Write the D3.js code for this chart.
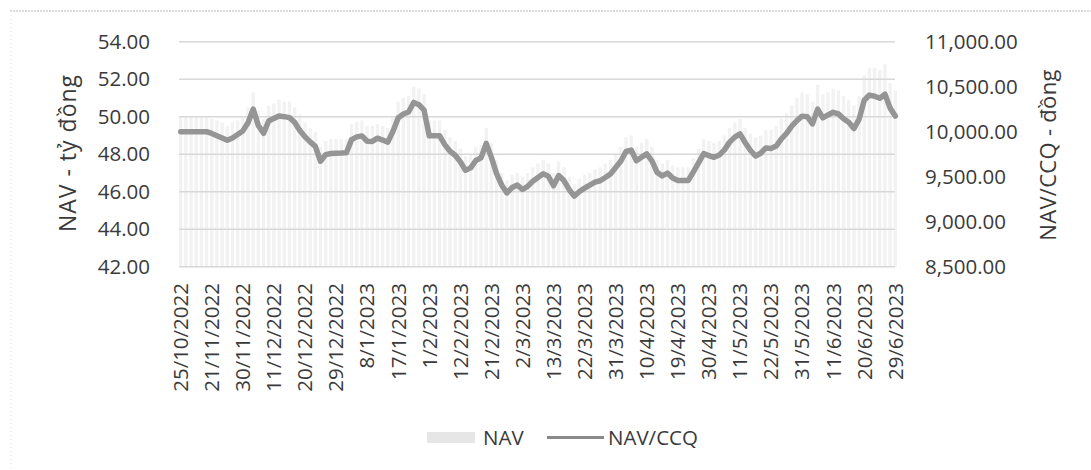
<!DOCTYPE html>
<html>
<head>
<meta charset="utf-8">
<script src="https://cdn.jsdelivr.net/npm/d3@7"></script>
<style>
  body { margin: 0; background: #fff; }
  text { font-family: "Open Sans", sans-serif; fill: #3a3a3a; }
</style>
</head>
<body>
<div id="chart"></div>
<script>
// x-axis tick labels, one every 6 data points
var tickLabels = ["25/10/2022", "21/11/2022", "30/11/2022", "11/12/2022", "20/12/2022", "29/12/2022",
                  "8/1/2023", "17/1/2023", "1/2/2023", "12/2/2023", "21/2/2023", "2/3/2023",
                  "13/3/2023", "22/3/2023", "31/3/2023", "10/4/2023", "19/4/2023", "30/4/2023",
                  "11/5/2023", "22/5/2023", "31/5/2023", "11/6/2023", "20/6/2023", "29/6/2023"];
var labelEvery = 6;

// NAV/CCQ - đồng (right axis)
var navCCQ = [10000,10000,10000,10000,10000,10000,9981,9955,9930,9904,
              9930,9969,10009,10100,10251,10068,9982,10119,10148,10174,
              10167,10156,10105,10014,9943,9887,9837,9672,9745,9758,
              9761,9763,9767,9912,9942,9953,9894,9892,9928,9907,
              9884,10005,10153,10196,10219,10325,10300,10239,9954,9954,
              9954,9856,9783,9738,9666,9570,9598,9680,9709,9870,
              9715,9535,9406,9320,9379,9407,9358,9393,9450,9492,
              9532,9505,9399,9513,9457,9358,9284,9335,9373,9407,
              9439,9455,9491,9531,9601,9674,9780,9796,9678,9717,
              9754,9676,9548,9509,9540,9485,9458,9458,9458,9552,
              9654,9756,9735,9715,9740,9798,9884,9940,9976,9880,
              9794,9730,9761,9820,9814,9841,9920,9981,10061,10123,
              10173,10166,10086,10250,10154,10186,10216,10198,10145,10104,
              10035,10137,10350,10407,10394,10372,10416,10262,10174];

// NAV - tỷ đồng (left axis, bars)
var nav = [50.0,50.0,50.0,50.0,50.0,50.0,49.9,49.8,49.7,49.5,
           49.7,49.8,50.0,50.5,51.3,50.3,49.9,50.6,50.7,50.9,
           50.8,50.8,50.5,50.1,49.7,49.4,49.2,48.4,48.7,48.8,
           48.8,48.8,48.8,49.6,49.7,49.8,49.5,49.5,49.6,49.5,
           49.4,50.0,50.8,51.0,51.1,51.6,51.5,51.2,49.8,49.8,
           49.8,49.3,48.9,48.7,48.3,47.9,48.0,48.4,48.5,49.4,
           48.6,47.7,47.0,46.6,46.9,47.0,46.8,47.0,47.3,47.5,
           47.7,47.5,47.0,47.6,47.3,46.8,46.4,46.7,46.9,47.0,
           47.2,47.3,47.5,47.7,48.0,48.4,48.9,49.0,48.4,48.6,
           48.8,48.4,47.7,47.5,47.7,47.4,47.3,47.3,47.3,47.8,
           48.3,48.8,48.7,48.6,48.7,49.0,49.4,49.7,49.9,49.4,
           49.1,48.9,49.0,49.3,49.3,49.5,49.9,50.2,50.6,51.0,
           51.3,51.2,50.8,51.7,51.2,51.3,51.5,51.4,51.1,50.9,
           50.6,51.1,52.2,52.6,52.6,52.5,52.8,51.8,51.4];

var leftTicks = [42, 44, 46, 48, 50, 52, 54];
var rightTicks = [8500, 9000, 9500, 10000, 10500, 11000];

var w = 1091, h = 470;
var plotL = 179, plotR = 897, plotT = 41.7, plotB = 266.7;

var svg = d3.select("#chart").append("svg")
            .attr("width", w)
            .attr("height", h);

// faint scanned border
svg.append("line").attr("x1", 10).attr("x2", w).attr("y1", 11).attr("y2", 11)
   .attr("stroke", "#b5b5b5").attr("stroke-dasharray", "2,1");
svg.append("line").attr("x1", 11).attr("x2", 11).attr("y1", 11).attr("y2", h)
   .attr("stroke", "#e2e2e2").attr("stroke-dasharray", "1,3");

var x = d3.scaleBand()
          .domain(d3.range(nav.length))
          .range([plotL, plotR])
          .paddingInner(0.35);

var yL = d3.scaleLinear().domain([42, 54]).range([plotB, plotT]);
var yR = d3.scaleLinear().domain([8500, 11000]).range([plotB, plotT]);

// NAV bars
svg.append("g")
   .selectAll("rect")
   .data(nav)
   .enter()
   .append("rect")
   .attr("x", function(d, i) { return x(i); })
   .attr("width", x.bandwidth())
   .attr("y", function(d) { return yL(d); })
   .attr("height", function(d) { return yL(42) - yL(d); })
   .attr("fill", "#f2f2f2");

// gridlines
svg.append("g")
   .selectAll("line")
   .data(leftTicks)
   .enter()
   .append("line")
   .attr("x1", plotL).attr("x2", plotR - 2)
   .attr("y1", function(d) { return yL(d); })
   .attr("y2", function(d) { return yL(d); })
   .attr("stroke", "#d8d8d8")
   .attr("stroke-width", 1.5);

// NAV/CCQ line
var line = d3.line()
             .x(function(d, i) { return x(i) + x.bandwidth() / 2; })
             .y(function(d) { return yR(d); });

svg.append("path")
   .datum(navCCQ)
   .attr("d", line)
   .attr("fill", "none")
   .attr("stroke", "#959595")
   .attr("stroke-width", 5.5)
   .attr("stroke-linejoin", "round")
   .attr("stroke-linecap", "round");

// axes
var leftAxis = svg.append("g")
   .attr("transform", "translate(" + 156 + ",0)")
   .call(d3.axisLeft(yL).tickValues(leftTicks).tickFormat(d3.format(".2f")).tickSize(0).tickPadding(6));

var rightAxis = svg.append("g")
   .attr("transform", "translate(" + 920 + ",0)")
   .call(d3.axisRight(yR).tickValues(rightTicks).tickFormat(d3.format(",.2f")).tickSize(0).tickPadding(5));

var bottomAxis = svg.append("g")
   .attr("transform", "translate(0," + 279 + ")")
   .call(d3.axisBottom(x)
           .tickValues(d3.range(0, nav.length, labelEvery))
           .tickFormat(function(i) { return tickLabels[i / labelEvery]; })
           .tickSize(0));

[leftAxis, rightAxis, bottomAxis].forEach(function(a) {
    a.select(".domain").remove();
    a.selectAll("text")
     .style("font-family", "'Open Sans', sans-serif")
     .style("font-size", "20.5px")
     .attr("fill", "#3a3a3a");
});

bottomAxis.selectAll("text")
   .attr("transform", "rotate(-90)")
   .attr("text-anchor", "end")
   .attr("x", -4)
   .attr("y", 0)
   .attr("dy", "0.36em");

// axis titles
svg.append("text")
   .attr("transform", "translate(76,153) rotate(-90)")
   .attr("text-anchor", "middle")
   .style("font-size", "23px")
   .style("letter-spacing", "1px")
   .text("NAV - tỷ đồng");

svg.append("text")
   .attr("transform", "translate(1056,155) rotate(-90)")
   .attr("text-anchor", "middle")
   .style("font-size", "22px")
   .style("letter-spacing", "0.3px")
   .text("NAV/CCQ - đồng");

// legend
var legend = svg.append("g");
legend.append("rect")
      .attr("x", 427).attr("y", 432).attr("width", 48).attr("height", 11)
      .attr("fill", "#e6e6e6");
legend.append("text")
      .attr("x", 483).attr("y", 438).attr("dy", "0.36em")
      .style("font-size", "20.5px")
      .text("NAV");
legend.append("line")
      .attr("x1", 547).attr("x2", 604).attr("y1", 437.5).attr("y2", 437.5)
      .attr("stroke", "#8a8a8a").attr("stroke-width", 3);
legend.append("text")
      .attr("x", 608).attr("y", 438).attr("dy", "0.36em")
      .style("font-size", "20.5px")
      .text("NAV/CCQ");
</script>
</body>
</html>
